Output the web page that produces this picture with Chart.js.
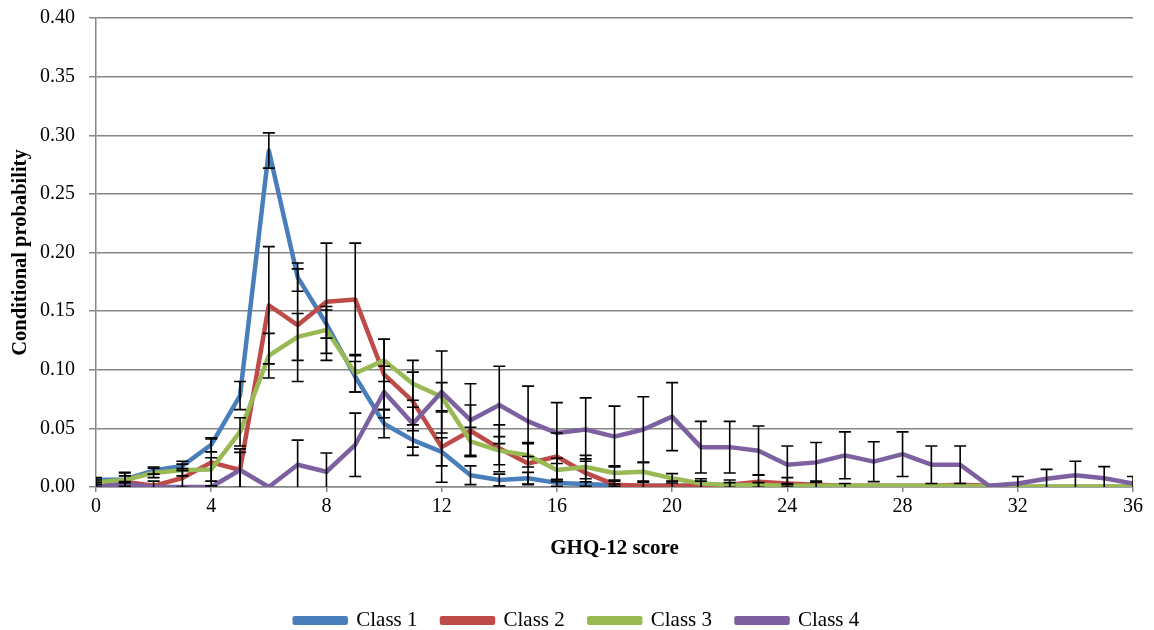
<!DOCTYPE html>
<html>
<head>
<meta charset="utf-8">
<script src="https://cdn.jsdelivr.net/npm/chart.js@4.4.0/dist/chart.umd.min.js"></script>
<style>
  html, body { margin: 0; padding: 0; background: #fff; }
  #wrap { width: 1154px; height: 630px; }
</style>
</head>
<body>
<div id="wrap"><canvas id="chart" width="1154" height="630"></canvas></div>
<script>
// GHQ-12 scores on the x axis
const scores = [0, 1, 2, 3, 4, 5, 6, 7, 8, 9, 10, 11, 12, 13, 14, 15, 16, 17, 18,
    19, 20, 21, 22, 23, 24, 25, 26, 27, 28, 29, 30, 31, 32, 33, 34, 35, 36];

// conditional probability per class
const class1 = [0.006, 0.0065, 0.014, 0.018, 0.036, 0.078, 0.287, 0.179, 0.139, 0.094, 0.054, 0.040,
    0.030, 0.010, 0.006, 0.0075, 0.0035, 0.0025, 0.0015, 0.001, 0.001, 0.001, 0.001, 0.001, 0.001,
    0.0005, 0.0005, 0.0005, 0, 0, 0, 0, 0, 0, 0, 0, 0];
const class2 = [0.0017, 0.0045, 0.001, 0.0077, 0.021, 0.0145, 0.155, 0.138, 0.158, 0.160, 0.096, 0.073,
    0.034, 0.048, 0.033, 0.020, 0.026, 0.012, 0.002, 0.001, 0.001, 0.001, 0.002, 0.0045, 0.003,
    0.002, 0.001, 0.001, 0.001, 0.001, 0.002, 0.001, 0, 0, 0, 0, 0];
const class3 = [0.004, 0.006, 0.012, 0.0145, 0.015, 0.047, 0.112, 0.128, 0.134, 0.097, 0.108, 0.088,
    0.077, 0.039, 0.031, 0.027, 0.0145, 0.017, 0.012, 0.013, 0.0074, 0.003, 0.0017, 0.0017, 0.001,
    0.001, 0.001, 0.001, 0.001, 0.001, 0.001, 0.0005, 0.0005, 0.0005, 0.0005, 0.0005, 0.0005];
const class4 = [0, 0.0026, 0, 0, 0, 0.0145, 0, 0.019, 0.013, 0.036, 0.081, 0.054,
    0.081, 0.057, 0.070, 0.056, 0.046, 0.049, 0.043, 0.049, 0.060, 0.034, 0.034, 0.031, 0.019,
    0.021, 0.027, 0.0216, 0.028, 0.019, 0.019, 0.001, 0.003, 0.007, 0.010, 0.0074, 0.003];

// +/- error for each point
const err1 = [0.002, 0.003, 0.003, 0.004, 0.006, 0.012, 0.015, 0.012, 0.012, 0.013, 0.012, 0.013,
    0.012, 0.008, 0.005, 0.005, 0.003, 0.002, 0.001, 0, 0, 0, 0, 0, 0,
    0, 0, 0, 0, 0, 0, 0, 0, 0, 0, 0, 0];
const err2 = [0.002, 0.008, 0.004, 0.008, 0.02, 0.018, 0.05, 0.048, 0.05, 0.048, 0.03, 0.025,
    0.03, 0.022, 0.02, 0.018, 0.02, 0.012, 0.003, 0.003, 0.004, 0.004, 0.004, 0.006, 0.005,
    0.003, 0.002, 0, 0, 0, 0, 0, 0, 0, 0, 0, 0];
const err3 = [0.002, 0.006, 0.004, 0.005, 0.01, 0.012, 0.019, 0.02, 0.02, 0.016, 0.018, 0.02,
    0.012, 0.012, 0.012, 0.01, 0.01, 0.01, 0.006, 0.008, 0.004, 0.004, 0.002, 0.002, 0.001,
    0, 0, 0, 0, 0, 0, 0, 0, 0, 0, 0, 0];
const err4 = [0, 0.002, 0, 0, 0, 0.015, 0, 0.021, 0.016, 0.027, 0.022, 0.02,
    0.035, 0.031, 0.033, 0.03, 0.026, 0.027, 0.026, 0.028, 0.029, 0.022, 0.022, 0.021, 0.016,
    0.017, 0.02, 0.017, 0.019, 0.016, 0.016, 0, 0.006, 0.008, 0.012, 0.01, 0.006];

const seriesNames = ['Class 1', 'Class 2', 'Class 3', 'Class 4'];
const seriesColors = ['#4A7EBB', '#BE4B48', '#98B954', '#7D60A0'];
const seriesValues = [class1, class2, class3, class4];
const seriesErrors = [err1, err2, err3, err4];

const serif = '"Liberation Serif", "Times New Roman", serif';

const datasets = seriesValues.map((vals, k) => ({
    label: seriesNames[k],
    data: scores.map((s, i) => ({ x: s, y: vals[i] })),
    errors: seriesErrors[k],
    borderColor: seriesColors[k],
    backgroundColor: seriesColors[k],
    borderWidth: 4.5,
    borderJoinStyle: 'round',
    borderCapStyle: 'round',
    pointRadius: 0,
    tension: 0,
    order: 3 - k   // later classes sit on top, like the original
}));

// black error bars with caps, drawn over the lines
const errorBars = {
    id: 'errorBars',
    afterDatasetsDraw(chart) {
        const { ctx, chartArea, scales } = chart;
        ctx.save();
        ctx.beginPath();
        ctx.rect(chartArea.left, chartArea.top - 2, chartArea.right - chartArea.left, chartArea.bottom - chartArea.top + 2);
        ctx.clip();
        ctx.strokeStyle = '#000';
        ctx.lineWidth = 1.6;
        chart.data.datasets.forEach(ds => {
            ds.data.forEach((p, i) => {
                const e = ds.errors[i];
                if (!e) return;
                const x = scales.x.getPixelForValue(p.x);
                const top = scales.y.getPixelForValue(p.y + e);
                const bot = scales.y.getPixelForValue(p.y - e);
                ctx.beginPath();
                ctx.moveTo(x, top); ctx.lineTo(x, bot);
                ctx.moveTo(x - 6, top); ctx.lineTo(x + 6, top);
                ctx.moveTo(x - 6, bot); ctx.lineTo(x + 6, bot);
                ctx.stroke();
            });
        });
        ctx.restore();
    }
};

// fixed legend height so the row sits near the bottom edge
const legendFit = {
    id: 'legendFit',
    afterInit(chart) {
        const fit = chart.legend.fit;
        chart.legend.fit = function () {
            fit.call(this);
            this.height = 44.5;
        };
    }
};

new Chart(document.getElementById('chart').getContext('2d'), {
    type: 'line',
    data: { datasets: datasets },
    options: {
        responsive: false,
        animation: false,
        layout: { padding: { left: 0, right: 0, top: 18, bottom: 0 } },
        plugins: {
            legend: {
                position: 'bottom',
                labels: {
                    font: { family: serif, size: 21 },
                    color: '#000',
                    boxWidth: 51,
                    boxHeight: 4.5,
                    padding: 24.5,
                    sort: (a, b) => a.datasetIndex - b.datasetIndex
                }
            },
            tooltip: { enabled: false }
        },
        scales: {
            x: {
                type: 'linear',
                min: 0,
                max: 36,
                ticks: {
                    stepSize: 4,
                    font: { family: serif, size: 20 },
                    color: '#000',
                    padding: 3
                },
                grid: { drawOnChartArea: false, drawTicks: true, tickLength: 5, color: '#868686', lineWidth: 1.5 },
                border: { color: '#868686', width: 1.5 },
                title: {
                    display: true,
                    text: 'GHQ-12 score',
                    font: { family: serif, size: 21, weight: 'bold' },
                    color: '#000',
                    padding: { top: 10, bottom: 24 }
                },
                afterFit(scale) { scale.height = 98.5; }
            },
            y: {
                min: 0,
                max: 0.4,
                ticks: {
                    stepSize: 0.05,
                    font: { family: serif, size: 20 },
                    color: '#000',
                    padding: 14,
                    callback: v => v.toFixed(2)
                },
                grid: { color: '#868686', lineWidth: 1.5, tickLength: 7 },
                border: { color: '#868686', width: 1.5 },
                title: {
                    display: true,
                    text: 'Conditional probability',
                    font: { family: serif, size: 20.5, weight: 'bold' },
                    color: '#000',
                    padding: { top: 8, bottom: 0 }
                },
                afterFit(scale) { scale.width = 96; scale.paddingTop = 0; }
            },
            // empty strip on the right so the plot ends where the original does
            spacer: {
                type: 'linear',
                position: 'right',
                grid: { display: false },
                border: { display: false },
                ticks: { display: false },
                afterFit(scale) { scale.width = 21; scale.paddingTop = 0; }
            }
        }
    },
    plugins: [errorBars, legendFit]
});
</script>
</body>
</html>
